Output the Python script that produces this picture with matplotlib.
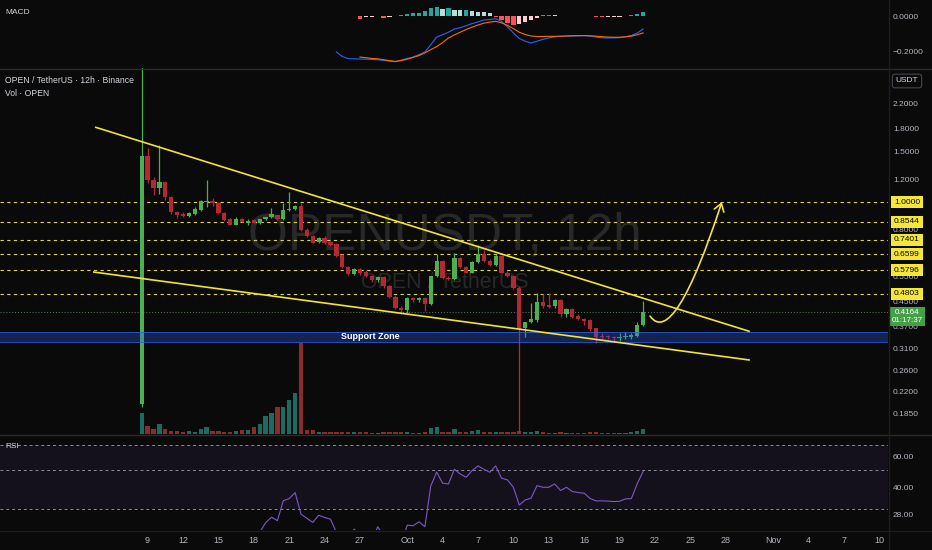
import numpy as np
import pandas as pd
import matplotlib
matplotlib.use('Agg')
import matplotlib.pyplot as plt
import matplotlib.dates as mdates
import matplotlib.transforms as mtransforms
from matplotlib.patches import FancyArrowPatch
from matplotlib.path import Path
from matplotlib.lines import Line2D
from matplotlib.ticker import NullLocator

plt.rcParams['font.family'] = ['Liberation Sans', 'DejaVu Sans']

# ---------------- data ----------------
first_bar = '2025-09-08 12:00'
n_bars = 86

opens = [0.200, 1.440, 1.190, 1.120, 1.170, 1.040, 0.926, 0.910, 0.893, 0.912,
         0.938, 1.000, 1.005, 0.995, 0.918, 0.875, 0.835, 0.873, 0.845, 0.865,
         0.845, 0.871, 0.885, 0.905, 0.871, 0.938, 0.943, 0.965, 0.800, 0.762,
         0.728, 0.752, 0.728, 0.713, 0.653, 0.594, 0.563, 0.584, 0.573, 0.554,
         0.537, 0.551, 0.511, 0.469, 0.428, 0.422, 0.463, 0.457, 0.463, 0.443,
         0.554, 0.626, 0.546, 0.541, 0.638, 0.594, 0.569, 0.621, 0.660, 0.626,
         0.605, 0.650, 0.569, 0.554, 0.502, 0.365, 0.384, 0.390, 0.451, 0.438,
         0.436, 0.457, 0.408, 0.425, 0.402, 0.392, 0.390, 0.365, 0.342, 0.342,
         0.340, 0.337, 0.339, 0.340, 0.343, 0.375]
highs = [3.200, 1.540, 1.220, 1.580, 1.180, 1.050, 0.930, 0.920, 0.920, 0.960,
         1.020, 1.190, 1.030, 1.000, 0.920, 0.880, 0.885, 0.880, 0.870, 0.870,
         0.875, 0.890, 0.953, 0.910, 0.990, 1.086, 0.975, 0.990, 0.810, 0.770,
         0.755, 0.760, 0.735, 0.720, 0.660, 0.600, 0.590, 0.590, 0.580, 0.560,
         0.555, 0.555, 0.515, 0.475, 0.435, 0.470, 0.470, 0.470, 0.470, 0.555,
         0.660, 0.630, 0.555, 0.667, 0.645, 0.600, 0.625, 0.710, 0.680, 0.635,
         0.660, 0.655, 0.575, 0.560, 0.510, 0.385, 0.446, 0.484, 0.480, 0.485,
         0.460, 0.460, 0.430, 0.430, 0.410, 0.395, 0.392, 0.367, 0.350, 0.345,
         0.342, 0.350, 0.355, 0.352, 0.385, 0.452]
lows = [0.195, 1.160, 1.060, 1.070, 1.020, 0.910, 0.880, 0.885, 0.885, 0.905,
        0.930, 0.960, 0.965, 0.910, 0.860, 0.830, 0.830, 0.850, 0.835, 0.845,
        0.840, 0.865, 0.880, 0.865, 0.865, 0.930, 0.935, 0.795, 0.755, 0.720,
        0.720, 0.715, 0.705, 0.645, 0.590, 0.560, 0.558, 0.560, 0.550, 0.530,
        0.530, 0.505, 0.465, 0.425, 0.410, 0.413, 0.450, 0.450, 0.420, 0.440,
        0.550, 0.540, 0.535, 0.535, 0.590, 0.565, 0.565, 0.615, 0.620, 0.600,
        0.600, 0.565, 0.550, 0.500, 0.120, 0.341, 0.380, 0.385, 0.430, 0.430,
        0.430, 0.400, 0.400, 0.395, 0.390, 0.375, 0.358, 0.324, 0.335, 0.335,
        0.330, 0.330, 0.335, 0.335, 0.340, 0.370]
closes = [1.440, 1.190, 1.120, 1.170, 1.040, 0.926, 0.900, 0.893, 0.918, 0.943,
          1.008, 1.005, 0.995, 0.914, 0.865, 0.835, 0.875, 0.850, 0.862, 0.848,
          0.871, 0.889, 0.909, 0.871, 0.938, 0.943, 0.965, 0.800, 0.762, 0.723,
          0.748, 0.719, 0.709, 0.650, 0.594, 0.563, 0.584, 0.566, 0.554, 0.537,
          0.551, 0.511, 0.467, 0.428, 0.422, 0.463, 0.457, 0.463, 0.443, 0.554,
          0.626, 0.544, 0.541, 0.638, 0.594, 0.569, 0.621, 0.660, 0.626, 0.605,
          0.650, 0.569, 0.554, 0.502, 0.362, 0.384, 0.392, 0.451, 0.436, 0.434,
          0.457, 0.408, 0.425, 0.400, 0.392, 0.388, 0.362, 0.341, 0.340, 0.339,
          0.337, 0.341, 0.344, 0.346, 0.375, 0.4164]
volumes = [21, 8, 5, 10, 5, 3.5, 3.5, 2, 3, 2,
           5, 7, 3.5, 3, 2.5, 2, 3.5, 4, 4, 6.7,
           10, 18, 21, 27, 27, 34, 41, 91, 4, 4,
           2.5, 2, 2, 2.5, 2.5, 2, 2, 2, 2, 1.5,
           1.5, 2, 2.5, 2.5, 2, 2, 1.5, 1.5, 2, 6,
           7, 2.5, 2, 5, 2, 2.5, 3, 4, 2.5, 2,
           2, 2, 2, 2.5, 3.5, 2.5, 2, 3, 2, 1.5,
           1.5, 2, 1.5, 1.5, 1.5, 1.5, 2, 2.5, 1.5, 1.5,
           1.5, 1.5, 1.5, 2, 3, 5]

nan = np.nan
rsi = [nan] * 20 + [
    22.0, 25.0, 26.9, 25.7, 33.5, 34.4, 37.3, 28.0, 26.5, 25.1,
    27.6, 26.8, 26.2, 22.0, 20.0, 19.0, 23.0, 21.0, 20.0, 19.5,
    23.7, 21.0, 18.5, 17.0, 18.5, 24.2, 24.0, 25.3, 23.7, 40.7,
    49.0, 42.2, 41.8, 50.8, 47.7, 45.7, 49.9, 53.1, 50.8, 48.8,
    53.1, 45.1, 44.1, 40.0, 31.6, 33.8, 34.6, 40.9, 40.0, 40.0,
    41.8, 38.3, 40.0, 37.8, 37.3, 37.0, 34.5, 33.4, 33.4, 33.3,
    33.1, 33.2, 34.3, 34.4, 42.0, 49.4]
macd_line = [nan] * 33 + [
    -0.200, -0.225, -0.237, -0.238, -0.239, -0.240, -0.241, -0.243, -0.247, -0.251,
    -0.254, -0.245, -0.236, -0.228, -0.215, -0.200, -0.160, -0.117, -0.104, -0.090,
    -0.072, -0.065, -0.054, -0.042, -0.033, -0.022, -0.020, -0.015, -0.030, -0.060,
    -0.094, -0.125, -0.140, -0.150, -0.140, -0.130, -0.122, -0.116, -0.113, -0.112,
    -0.111, -0.110, -0.109, -0.112, -0.117, -0.121, -0.122, -0.122, -0.120, -0.115,
    -0.108, -0.095, -0.072]
signal_line = [nan] * 37 + [
    -0.228, -0.232, -0.236, -0.238, -0.243, -0.248, -0.252, -0.248, -0.240, -0.230,
    -0.220, -0.205, -0.187, -0.170, -0.148, -0.122, -0.105, -0.090, -0.075, -0.062,
    -0.050, -0.040, -0.034, -0.030, -0.038, -0.052, -0.070, -0.090, -0.103, -0.111,
    -0.114, -0.114, -0.113, -0.113, -0.112, -0.111, -0.110, -0.109, -0.109, -0.110,
    -0.112, -0.115, -0.117, -0.118, -0.118, -0.116, -0.112, -0.104, -0.094]
histogram = [nan] * 37 + [
    -0.015, -0.007, -0.006, -0.002, -0.009, -0.006, 0.002, 0.004, 0.010, 0.014,
    0.018, 0.030, 0.042, 0.052, 0.040, 0.046, 0.034, 0.032, 0.033, 0.030,
    0.025, 0.020, 0.014, -0.003, -0.022, -0.040, -0.052, -0.046, -0.034, -0.022,
    -0.010, 0.003, 0.006, 0.004, 0.002, 0.002, 0.001, 0.002, 0.001, -0.002,
    -0.006, -0.007, -0.005, -0.004, -0.003, 0.002, 0.004, 0.010, 0.022]

level_prices = [1.0, 0.8544, 0.7401, 0.6599, 0.5796, 0.4803]
last_price = 0.4164
countdown = '01:17:37'
support_low, support_high = 0.327, 0.355

upper_trend_dates = ['2025-09-04 13:00', '2025-10-30 01:00']
upper_trend_prices = [1.819, 0.3555]
lower_trend_dates = ['2025-09-04 09:00', '2025-10-30 01:00']
lower_trend_prices = [0.572, 0.283]
arrow_dates = ['2025-10-21 14:00', '2025-10-22 22:00', '2025-10-24 23:00', '2025-10-27 16:00']
arrow_prices = [0.402, 0.3375, 0.457, 1.0]

price_ticks = [2.2, 1.8, 1.5, 1.2, 0.8, 0.55, 0.45, 0.37, 0.31, 0.26, 0.22, 0.185]
rsi_ticks = [60, 40, 28]
macd_ticks = [0.0, -0.2]
macd_tick_labels = ['0.0000', '\u22120.2000']
time_tick_dates = ['2025-09-09', '2025-09-12', '2025-09-15', '2025-09-18', '2025-09-21',
                   '2025-09-24', '2025-09-27', '2025-10-01', '2025-10-04', '2025-10-07',
                   '2025-10-10', '2025-10-13', '2025-10-16', '2025-10-19', '2025-10-22',
                   '2025-10-25', '2025-10-28', '2025-11-01', '2025-11-04', '2025-11-07',
                   '2025-11-10']
time_tick_labels = ['9', '12', '15', '18', '21', '24', '27', 'Oct', '4', '7', '10', '13',
                    '16', '19', '22', '25', '28', 'Nov', '4', '7', '10']

# ---------------- style ----------------
W, H = 932, 550
BG = '#0a0a0a'
GREEN = '#4caf50'
RED = '#b22833'
VOL_GREEN = '#1d6a60'
VOL_RED = '#8a2c2c'
YEL = '#f2e33a'
TXT = '#d1d4dc'
AX_TXT = '#b2b5be'
SEP = '#2a2a2a'

fig = plt.figure(figsize=(W / 100, H / 100), dpi=100)
fig.patch.set_facecolor(BG)


def fy(py):
    return 1 - py / H


PR = 888
ax_macd = fig.add_axes([0, fy(68), PR / W, 68 / H])
ax_vol = fig.add_axes([0, fy(434), PR / W, 366 / H])
ax = fig.add_axes([0, fy(434), PR / W, 366 / H])
ax_rsi = fig.add_axes([0, fy(530), PR / W, 95 / H])

dates = pd.date_range(first_bar, periods=n_bars, freq='12h')
x = mdates.date2num(dates)
x0 = mdates.date2num(pd.Timestamp('2025-09-09'))
xlim = (x0 - 12.51, x0 + 62.75)

for a in (ax_macd, ax_vol, ax, ax_rsi):
    a.set_facecolor('none')
    for s in a.spines.values():
        s.set_visible(False)
    a.set_xlim(*xlim)
    a.tick_params(axis='x', bottom=False, labelbottom=False)
    a.yaxis.tick_right()
    a.tick_params(axis='y', which='both', length=0, pad=3.6, labelsize=6, labelcolor=AX_TXT)

o = np.array(opens); h = np.array(highs); l = np.array(lows); c = np.array(closes)
up = c >= o
ccol = np.where(up, GREEN, RED)

# volume
vol = np.array(volumes, dtype=float)
ax_vol.bar(x, vol, width=0.36, color=np.where(up, VOL_GREEN, VOL_RED), linewidth=0)
ax_vol.set_ylim(0, vol.max() * 366 / 91)
ax_vol.set_yticks([])

# watermark
ax_vol.text(445 / W, fy(250), 'OPENUSDT, 12h', transform=fig.transFigure, ha='center',
            va='baseline', fontsize=37, color='#282828', zorder=0)
ax_vol.text(445 / W, fy(288), 'OPEN / TetherUS', transform=fig.transFigure, ha='center',
            va='baseline', fontsize=15.5, color='#282828', zorder=0)

# main price pane
ax.set_yscale('log')
ax.set_ylim(0.1568, 2.916)
ax.set_yticks(price_ticks)
ax.set_yticklabels([f'{v:.4f}' for v in price_ticks])
ax.yaxis.set_minor_locator(NullLocator())

for lv in level_prices:
    ax.axhline(lv, color='#d8d24c', lw=0.8, ls=(0, (3, 3)), zorder=1)
ax.axhline(last_price, color='#5d7d5d', lw=0.7, ls=(0, (1, 2)), zorder=1)

ax.vlines(x, l, h, colors=ccol, lw=0.9, zorder=3)
body_h = np.maximum(np.abs(c - o), o * 0.004)
ax.bar(x, body_h, bottom=np.minimum(o, c), width=0.36, color=ccol, linewidth=0, zorder=4)

# support zone
ax.axhspan(support_low, support_high, color='#2962ff', alpha=0.3, lw=0, zorder=5)
ax.axhline(support_high, color='#2f5fe0', lw=0.7, alpha=0.8, zorder=5)
ax.axhline(support_low, color='#2f5fe0', lw=0.7, alpha=0.8, zorder=5)
ax.text(370 / PR, np.sqrt(support_low * support_high), 'Support Zone',
        transform=ax.get_yaxis_transform(), ha='center', va='center',
        fontsize=6.5, fontweight='bold', color='white', zorder=6)

# trend lines
ax.plot(mdates.date2num(pd.to_datetime(upper_trend_dates)), upper_trend_prices,
        color=YEL, lw=1.2, zorder=6, solid_capstyle='butt')
ax.plot(mdates.date2num(pd.to_datetime(lower_trend_dates)), lower_trend_prices,
        color=YEL, lw=1.2, zorder=6, solid_capstyle='butt')

# curved arrow
av = list(zip(mdates.date2num(pd.to_datetime(arrow_dates)), arrow_prices))
arrow_path = Path(av, [Path.MOVETO, Path.CURVE4, Path.CURVE4, Path.CURVE4])
arr = FancyArrowPatch(path=arrow_path, arrowstyle='->,head_length=0.45,head_width=0.3',
                      mutation_scale=12, color=YEL, lw=1.2, zorder=7)
ax.add_patch(arr)

# right price labels
ytr = ax.get_yaxis_transform()
lab_x = 907 / PR
for lv in level_prices:
    ax.text(lab_x, lv, f'{lv:.4f}', transform=ytr, ha='center', va='center', fontsize=6,
            color='black', clip_on=False, zorder=20,
            bbox=dict(boxstyle='square,pad=0.32', fc='#f5e73a', ec='none'))
off = mtransforms.offset_copy(ytr, fig=fig, y=-5, units='dots')
ax.text(lab_x, last_price, f'{last_price:.4f}\n{countdown}', transform=off, ha='center',
        va='center', fontsize=5.8, color='white', clip_on=False, zorder=20, linespacing=1.15,
        bbox=dict(boxstyle='square,pad=0.25', fc='#43a047', ec='none'))

# MACD pane
ax_macd.set_ylim(-0.289, 0.089)
ax_macd.set_yticks(macd_ticks)
ax_macd.set_yticklabels(macd_tick_labels)
hist = np.array(histogram)
hcol = []
for i in range(n_bars):
    v = hist[i]
    p = hist[i - 1] if i > 0 else np.nan
    if np.isnan(v):
        hcol.append('none')
    elif v >= 0:
        hcol.append('#26a69a' if (np.isnan(p) or v > p) else '#b2dfdb')
    else:
        hcol.append('#ffcdd2' if (not np.isnan(p) and v > p) else '#ff5252')
ax_macd.bar(x, np.nan_to_num(hist), width=0.36, color=hcol, linewidth=0)
ax_macd.plot(x, macd_line, color='#2962ff', lw=0.8)
ax_macd.plot(x, signal_line, color='#ff6d00', lw=0.8)

# RSI pane
ax_rsi.set_yscale('log')
ax_rsi.set_ylim(22.7, 80)
ax_rsi.set_yticks(rsi_ticks)
ax_rsi.set_yticklabels([f'{v:.2f}' for v in rsi_ticks])
ax_rsi.yaxis.set_minor_locator(NullLocator())
ax_rsi.axhspan(30, 70, color='#7e57c2', alpha=0.1, lw=0)
for lv in (70, 50, 30):
    ax_rsi.axhline(lv, color='#8a8d96', lw=0.7, ls=(0, (3, 3)))
ax_rsi.plot(x, rsi, color='#7e57c2', lw=0.8)

ax_rsi.set_xticks(mdates.date2num(pd.to_datetime(time_tick_dates)))
ax_rsi.set_xticklabels(time_tick_labels)
ax_rsi.tick_params(axis='x', bottom=True, labelbottom=True, length=0, pad=4.5,
                   labelsize=6.5, labelcolor=AX_TXT)

# separators
def fig_line(xs, ys, color=SEP, lw=1.0):
    fig.add_artist(Line2D([v / W for v in xs], [fy(v) for v in ys],
                          transform=fig.transFigure, color=color, lw=lw))

fig_line([0, W], [68.5, 68.5])
fig_line([0, W], [434.8, 434.8])
fig_line([0, W], [530.5, 530.5], color='#1e1e1e')
fig_line([PR + 0.5, PR + 0.5], [0, 550], color='#1e1e1e')

# legends / titles
fig.text(5 / W, fy(12), 'MACD', fontsize=6, color=TXT, va='center')
fig.text(5 / W, fy(80.7), 'OPEN / TetherUS \u00b7 12h \u00b7 Binance', fontsize=6.2, color=TXT, va='center')
fig.text(5 / W, fy(93.3), 'Vol \u00b7 OPEN', fontsize=6.2, color=TXT, va='center')
fig.text(5 / W, fy(446), 'RSI', fontsize=6, color=TXT, va='center')
fig.text(907 / W, fy(81), 'USDT', fontsize=6, color=TXT, ha='center', va='center',
         bbox=dict(boxstyle='round,pad=0.4,rounding_size=0.3', fc=BG, ec='#434651', lw=0.8))

fig.savefig('out.png', dpi=100, facecolor=BG)
